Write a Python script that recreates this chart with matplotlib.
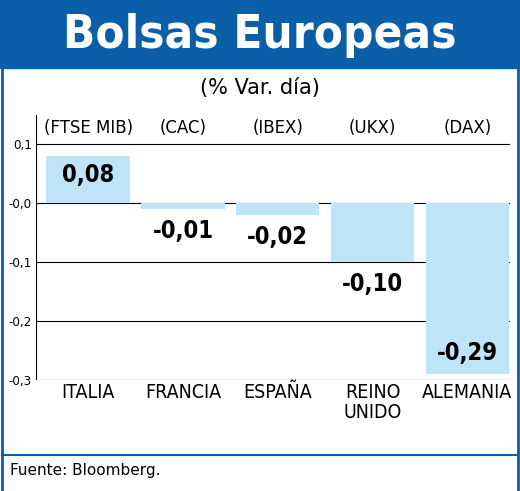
import matplotlib
matplotlib.use("Agg")
import matplotlib.pyplot as plt
from matplotlib.patches import Rectangle
from matplotlib.lines import Line2D

categories = ["ITALIA", "FRANCIA", "ESPAÑA", "REINO\nUNIDO", "ALEMANIA"]
indices = ["(FTSE MIB)", "(CAC)", "(IBEX)", "(UKX)", "(DAX)"]
values = [0.08, -0.01, -0.02, -0.10, -0.29]
yticks = [0.1, 0.0, -0.1, -0.2, -0.3]
ytick_labels = ["0,1", "-0,0", "-0,1", "-0,2", "-0,3"]

W, H = 520, 491
fig = plt.figure(figsize=(W/100, H/100), dpi=100)
blue = "#0b5ea8"
fc = dict(family="DejaVu Sans", fontstretch="condensed")

fig.patches.append(Rectangle((0, 1-68/H), 1, 68/H, transform=fig.transFigure, color=blue, zorder=0))
fig.lines.append(Line2D([0.003, 0.003], [0, 1], transform=fig.transFigure, color=blue, lw=2))
fig.lines.append(Line2D([0.997, 0.997], [0, 1], transform=fig.transFigure, color=blue, lw=2))
fig.text(0.5, 1-36/H, "Bolsas Europeas", color="white", fontsize=34, fontweight="bold",
         ha="center", va="center", **fc)
fig.text(0.5, 1-88/H, "(% Var. día)", fontsize=15, ha="center", va="center")

ax = fig.add_axes([36/W, 1-380/H, 474/W, 265/H])
x = list(range(len(values)))
ax.bar(x, values, width=0.88, color="#bfe4f7", zorder=2)
ax.set_xlim(-0.55, 4.45)
ax.set_ylim(-0.3, 0.149)
ax.set_yticks(yticks)
ax.set_yticklabels(ytick_labels, fontsize=9.5, **fc)
ax.tick_params(axis="y", length=0, pad=3)
ax.set_xticks([])
for s in ax.spines.values():
    s.set_visible(False)
for t in yticks:
    ax.axhline(t, color="black", lw=0.8, zorder=1)
ax.axvline(-0.55, color="black", lw=0.8)

for xi, v, idx, cat in zip(x, values, indices, categories):
    ax.text(xi, 0.127, idx, ha="center", va="center", fontsize=12)
    lbl = f"{v:.2f}".replace(".", ",")
    if v > 0:
        off = -14
    elif v > -0.2:
        off = -16
    else:
        off = 15
    ax.annotate(lbl, (xi, v), xytext=(0, off), textcoords="offset points",
                ha="center", va="center", fontsize=17, fontweight="bold", **fc)
    ax.text(xi, -0.305, cat, ha="center", va="top", fontsize=14, linespacing=1.1, **fc)

fig.lines.append(Line2D([0.003, 0.997], [1-455/H]*2, transform=fig.transFigure, color=blue, lw=1.5))
fig.text(10/W, 1-470/H, "Fuente: Bloomberg.", fontsize=11, va="center")

fig.savefig("out.png", dpi=100)
